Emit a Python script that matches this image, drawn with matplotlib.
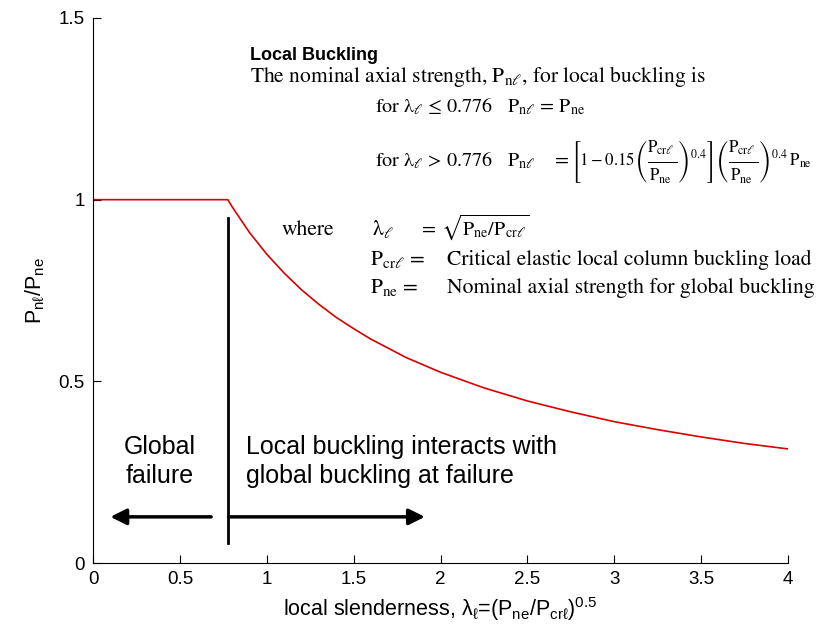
import matplotlib
matplotlib.use("Agg")
import matplotlib.pyplot as plt

plt.rcParams["font.family"] = ["Liberation Sans", "DejaVu Sans"]
plt.rcParams["mathtext.fontset"] = "custom"
plt.rcParams["mathtext.rm"] = "Liberation Sans"
plt.rcParams["mathtext.it"] = "Liberation Sans:italic"
plt.rcParams["mathtext.default"] = "rm"
plt.rcParams["mathtext.fallback"] = "stix"

# values
slenderness = [0.0, 0.776, 0.8, 0.9, 1.0, 1.1, 1.2, 1.3, 1.4, 1.5, 1.6, 1.8,
               2.0, 2.25, 2.5, 2.75, 3.0, 3.25, 3.5, 3.75, 4.0]
strength_ratio = [1.0, 1.0, 0.981, 0.910, 0.850, 0.798, 0.752, 0.712, 0.676,
                  0.645, 0.616, 0.566, 0.525, 0.482, 0.446, 0.416, 0.389,
                  0.367, 0.347, 0.329, 0.314]
limit_slenderness = 0.776

x_ticks = [0, 0.5, 1, 1.5, 2, 2.5, 3, 3.5, 4]
x_tick_labels = ["0", "0.5", "1", "1.5", "2", "2.5", "3", "3.5", "4"]
y_ticks = [0, 0.5, 1, 1.5]
y_tick_labels = ["0", "0.5", "1", "1.5"]

W, H = 822, 635
fig = plt.figure(figsize=(W / 100, H / 100), dpi=100)
ax = fig.add_axes([93 / W, 1 - 563 / H, (788 - 93) / W, (563 - 18) / H])

ax.plot(slenderness, strength_ratio, color="#d80000", linewidth=1.2)
ax.plot([limit_slenderness, limit_slenderness], [0.055, 0.95], color="k", linewidth=2)

arrow = dict(arrowstyle="-|>", color="k", lw=2.5, mutation_scale=24, shrinkA=0, shrinkB=0)
ax.annotate("", xy=(0.10, 0.127), xytext=(0.68, 0.127), arrowprops=arrow)
ax.annotate("", xy=(1.91, 0.127), xytext=(0.78, 0.127), arrowprops=arrow)

ax.text(0.385, 0.28, "Global\nfailure", fontsize=18, ha="center", va="center",
        linespacing=1.25)
ax.text(0.88, 0.28, "Local buckling interacts with\nglobal buckling at failure",
        fontsize=18, ha="left", va="center", linespacing=1.25)

ax.set_xlim(0, 4)
ax.set_ylim(0, 1.5)
ax.set_xticks(x_ticks)
ax.set_xticklabels(x_tick_labels)
ax.set_yticks(y_ticks)
ax.set_yticklabels(y_tick_labels)
ax.tick_params(direction="in", length=6, labelsize=13.5, pad=6)
ax.spines["top"].set_visible(False)
ax.spines["right"].set_visible(False)
ax.set_xlabel(r"local slenderness, $\lambda_\ell$=(P$_{ne}$/P$_{cr\ell}$)$^{0.5}$",
              fontsize=15.5, labelpad=5)
ax.set_ylabel(r"P$_{n\ell}$/P$_{ne}$", fontsize=15.5, labelpad=9)


def note(px, py, s, size=15.5, **kw):
    return fig.text(px / W, 1 - py / H, s, fontsize=size, family="STIXGeneral",
                    math_fontfamily="stix", va="baseline", ha="left", **kw)


fig.text(250 / W, 1 - 60 / H, "Local Buckling", fontsize=13, weight="bold",
         va="baseline", ha="left")
note(250, 82, r"The nominal axial strength, $P_{n\ell}$, for local buckling is")
note(375, 112, r"for $\lambda_\ell$ ≤ 0.776   $P_{n\ell}$ = $P_{ne}$", size=14.5)
note(375, 166, r"for $\lambda_\ell$ > 0.776   $P_{n\ell}$    =", size=14.5)

# tall fraction: pad numerator and denominator away from the bar
num = r"\genfrac{}{}{0}{0}{P_{cr\ell}}{\,}"
den = r"\genfrac{}{}{0}{0}{\,}{P_{ne}}"
tall = r"\dfrac{" + num + "}{" + den + "}"
plain = r"\dfrac{P_{cr\ell}}{P_{ne}}"


def bracket_formula(frac):
    return (r"$\left[1-0.15\left(" + frac + r"\right)^{0.4}\right]"
            r"\left(" + frac + r"\right)^{0.4}\,P_{ne}$")


formula = note(571, 166, bracket_formula(tall), size=12.2)
try:
    fig.canvas.draw()
except Exception:
    formula.set_text(bracket_formula(plain))

note(282, 235, "where")
note(372, 235, r"$\lambda_\ell$")
note(419, 235, r"$=\,\sqrt{P_{ne}/P_{cr\ell}}$", size=14.5)
note(370, 265, r"$P_{cr\ell}$ =")
note(447, 265, "Critical elastic local column buckling load")
note(370, 293, r"$P_{ne}$ =")
note(447, 293, "Nominal axial strength for global buckling")

fig.savefig("out.png", dpi=100)
